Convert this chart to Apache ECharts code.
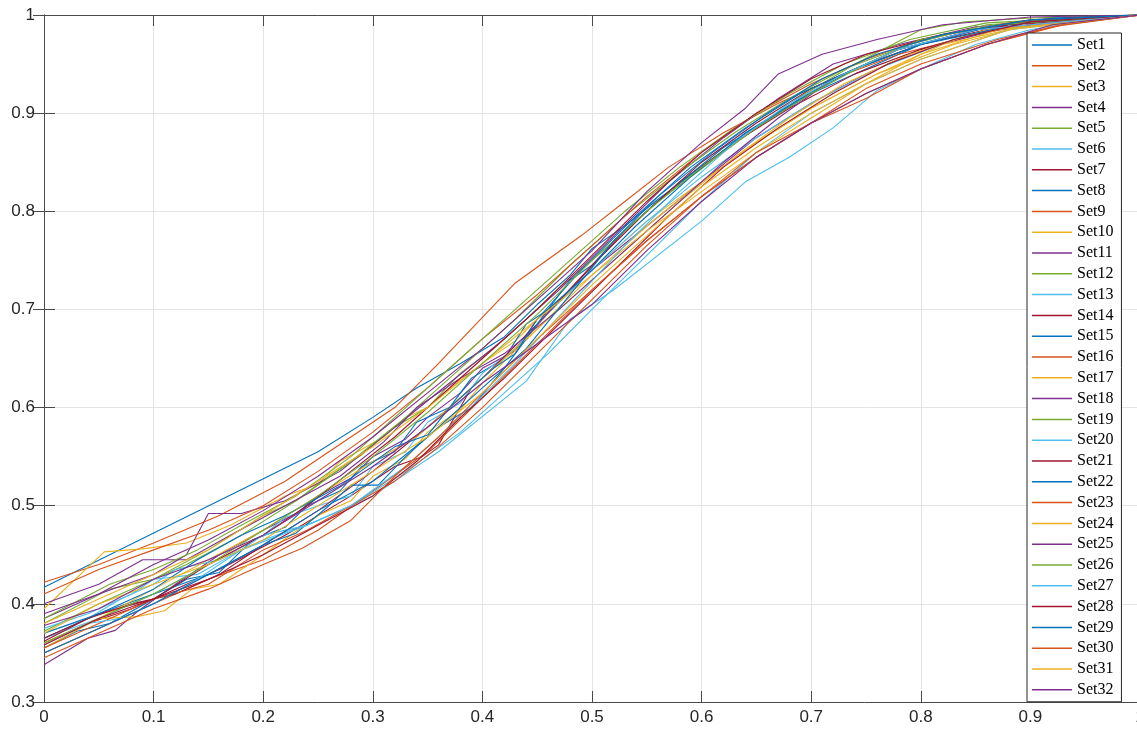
<!DOCTYPE html>
<html>
<head>
<meta charset="utf-8">
<script src="https://cdn.jsdelivr.net/npm/echarts@6.0.0/dist/echarts.min.js"></script>
<style>html,body{margin:0;padding:0;background:#fff;}#chart{width:1137px;height:729px;}</style>
</head>
<body>
<div id="chart"></div>
<script>
const xTicks = [0, 0.1, 0.2, 0.3, 0.4, 0.5, 0.6, 0.7, 0.8, 0.9, 1];
const yTicks = [0.3, 0.4, 0.5, 0.6, 0.7, 0.8, 0.9, 1];
const colors = ['#0072BD', '#D95319', '#EDB120', '#7E2F8E', '#77AC30', '#4DBEEE', '#A2142F'];

const set1 = [[0,0.417],[0.25,0.555],[0.3,0.59],[0.34,0.62],[0.38,0.645],[0.42,0.672],[0.45,0.705],[0.48,0.735],[0.5,0.762],[0.53,0.785],[0.56,0.812],[0.6,0.845],[0.65,0.885],[0.7,0.92],[0.75,0.945],[0.8,0.97],[0.87,0.99],[0.93,0.997],[1,1]];
const set2 = [[0,0.422],[0.05,0.44],[0.1,0.462],[0.16,0.49],[0.22,0.525],[0.28,0.57],[0.32,0.6],[0.36,0.645],[0.43,0.727],[0.49,0.775],[0.53,0.81],[0.57,0.845],[0.62,0.88],[0.67,0.91],[0.72,0.935],[0.78,0.96],[0.85,0.98],[0.92,0.995],[1,1]];
const set3 = [[0,0.395],[0.055,0.453],[0.09,0.456],[0.13,0.462],[0.17,0.48],[0.22,0.51],[0.25,0.522],[0.27,0.545],[0.31,0.57],[0.33,0.59],[0.35,0.6],[0.38,0.628],[0.4,0.645],[0.43,0.668],[0.45,0.69],[0.5,0.74],[0.55,0.79],[0.6,0.83],[0.65,0.87],[0.7,0.905],[0.76,0.94],[0.83,0.97],[0.9,0.99],[1,1]];
const set4 = [[0,0.338],[0.04,0.365],[0.065,0.373],[0.085,0.392],[0.12,0.42],[0.16,0.45],[0.2,0.475],[0.23,0.492],[0.25,0.51],[0.28,0.528],[0.3,0.55],[0.33,0.568],[0.35,0.59],[0.38,0.615],[0.4,0.64],[0.43,0.658],[0.45,0.69],[0.5,0.74],[0.55,0.785],[0.6,0.83],[0.65,0.875],[0.7,0.91],[0.75,0.94],[0.8,0.965],[0.87,0.985],[1,1]];
const set5 = [[0,0.38],[0.06,0.415],[0.1,0.425],[0.15,0.455],[0.2,0.49],[0.23,0.505],[0.26,0.53],[0.29,0.552],[0.32,0.58],[0.35,0.6],[0.38,0.635],[0.41,0.66],[0.44,0.69],[0.47,0.722],[0.5,0.75],[0.56,0.81],[0.62,0.86],[0.68,0.91],[0.74,0.95],[0.8,0.985],[0.84,0.993],[0.9,0.997],[1,1]];
const set6 = [[0,0.365],[0.05,0.385],[0.1,0.41],[0.15,0.44],[0.2,0.465],[0.25,0.485],[0.3,0.51],[0.36,0.555],[0.44,0.627],[0.48,0.69],[0.52,0.72],[0.6,0.79],[0.64,0.83],[0.68,0.855],[0.72,0.885],[0.76,0.923],[0.8,0.945],[0.85,0.97],[0.9,0.985],[0.95,0.995],[1,1]];
const set7 = [[0,0.36],[0.04,0.38],[0.08,0.395],[0.12,0.415],[0.16,0.435],[0.22,0.47],[0.28,0.51],[0.32,0.54],[0.345,0.55],[0.36,0.562],[0.39,0.62],[0.43,0.66],[0.48,0.72],[0.53,0.78],[0.58,0.83],[0.63,0.87],[0.68,0.905],[0.74,0.94],[0.8,0.965],[0.88,0.99],[1,1]];
const set8 = [[0,0.355],[0.03,0.372],[0.06,0.38],[0.1,0.405],[0.13,0.425],[0.16,0.432],[0.19,0.465],[0.22,0.478],[0.24,0.5],[0.27,0.515],[0.29,0.54],[0.32,0.555],[0.34,0.585],[0.37,0.6],[0.39,0.63],[0.42,0.65],[0.44,0.685],[0.46,0.7],[0.48,0.73],[0.5,0.745],[0.52,0.77],[0.57,0.82],[0.62,0.865],[0.67,0.9],[0.72,0.935],[0.78,0.965],[0.85,0.985],[0.92,0.997],[1,1]];
const set9 = [[0,0.35],[0.05,0.375],[0.1,0.4],[0.15,0.425],[0.2,0.445],[0.25,0.475],[0.3,0.515],[0.35,0.555],[0.4,0.61],[0.45,0.665],[0.5,0.72],[0.55,0.77],[0.6,0.815],[0.65,0.855],[0.7,0.89],[0.75,0.925],[0.8,0.95],[0.87,0.975],[0.94,0.993],[1,1]];
const set10 = [[0,0.355],[0.05,0.385],[0.085,0.387],[0.11,0.393],[0.135,0.415],[0.16,0.42],[0.2,0.45],[0.25,0.49],[0.28,0.505],[0.3,0.53],[0.33,0.548],[0.35,0.575],[0.38,0.598],[0.4,0.625],[0.45,0.68],[0.5,0.735],[0.55,0.785],[0.6,0.83],[0.65,0.87],[0.7,0.905],[0.76,0.94],[0.82,0.97],[0.9,0.99],[1,1]];
const set11 = [[0,0.385],[0.05,0.41],[0.1,0.43],[0.13,0.45],[0.15,0.492],[0.18,0.492],[0.22,0.505],[0.27,0.535],[0.32,0.58],[0.37,0.625],[0.42,0.67],[0.47,0.72],[0.52,0.775],[0.57,0.83],[0.62,0.875],[0.67,0.915],[0.72,0.95],[0.78,0.97],[0.85,0.988],[1,1]];
const set12 = [[0,0.372],[0.05,0.4],[0.09,0.42],[0.13,0.44],[0.18,0.47],[0.23,0.505],[0.28,0.545],[0.33,0.59],[0.38,0.64],[0.43,0.69],[0.48,0.745],[0.53,0.795],[0.58,0.84],[0.63,0.88],[0.68,0.915],[0.73,0.945],[0.79,0.97],[0.86,0.99],[1,1]];
const set13 = [[0,0.37],[0.04,0.385],[0.07,0.405],[0.1,0.42],[0.12,0.435],[0.16,0.445],[0.2,0.47],[0.22,0.488],[0.25,0.5],[0.28,0.51],[0.3,0.54],[0.33,0.555],[0.35,0.585],[0.38,0.605],[0.4,0.635],[0.43,0.66],[0.45,0.685],[0.5,0.74],[0.55,0.79],[0.6,0.835],[0.65,0.875],[0.7,0.91],[0.76,0.945],[0.83,0.975],[0.9,0.993],[1,1]];
const set14 = [[0,0.362],[0.04,0.385],[0.08,0.4],[0.12,0.41],[0.16,0.43],[0.2,0.46],[0.25,0.495],[0.3,0.535],[0.35,0.58],[0.4,0.63],[0.45,0.685],[0.5,0.745],[0.55,0.8],[0.6,0.85],[0.65,0.89],[0.7,0.925],[0.75,0.95],[0.8,0.97],[0.88,0.99],[1,1]];
const set15 = [[0,0.365],[0.05,0.39],[0.1,0.41],[0.15,0.43],[0.2,0.46],[0.23,0.472],[0.26,0.5],[0.28,0.521],[0.305,0.521],[0.33,0.55],[0.36,0.58],[0.39,0.6],[0.42,0.64],[0.46,0.7],[0.5,0.74],[0.54,0.785],[0.59,0.835],[0.64,0.88],[0.69,0.915],[0.74,0.945],[0.8,0.97],[0.87,0.99],[1,1]];
const set16 = [[0,0.41],[0.05,0.435],[0.1,0.455],[0.15,0.475],[0.2,0.5],[0.25,0.535],[0.3,0.575],[0.35,0.62],[0.4,0.67],[0.45,0.715],[0.5,0.765],[0.55,0.815],[0.6,0.86],[0.65,0.9],[0.7,0.93],[0.75,0.955],[0.8,0.975],[0.88,0.992],[1,1]];
const set17 = [[0,0.36],[0.05,0.385],[0.1,0.415],[0.15,0.445],[0.2,0.475],[0.25,0.51],[0.3,0.545],[0.34,0.57],[0.38,0.61],[0.43,0.66],[0.48,0.71],[0.53,0.76],[0.58,0.81],[0.63,0.855],[0.68,0.895],[0.73,0.93],[0.79,0.96],[0.86,0.985],[1,1]];
const set18 = [[0,0.4],[0.05,0.42],[0.09,0.445],[0.13,0.445],[0.17,0.47],[0.22,0.5],[0.27,0.53],[0.31,0.565],[0.34,0.6],[0.38,0.63],[0.42,0.655],[0.47,0.7],[0.52,0.75],[0.57,0.8],[0.62,0.85],[0.67,0.895],[0.72,0.935],[0.78,0.965],[0.85,0.985],[1,1]];
const set19 = [[0,0.385],[0.06,0.42],[0.1,0.435],[0.14,0.455],[0.18,0.48],[0.23,0.51],[0.28,0.55],[0.33,0.6],[0.38,0.65],[0.43,0.7],[0.48,0.75],[0.53,0.8],[0.58,0.845],[0.63,0.885],[0.68,0.92],[0.73,0.95],[0.79,0.975],[0.86,0.992],[1,1]];
const set20 = [[0,0.375],[0.04,0.39],[0.08,0.41],[0.1,0.425],[0.14,0.43],[0.18,0.455],[0.24,0.48],[0.28,0.5],[0.33,0.535],[0.38,0.575],[0.42,0.615],[0.46,0.655],[0.5,0.7],[0.55,0.755],[0.6,0.81],[0.65,0.86],[0.7,0.9],[0.75,0.93],[0.8,0.955],[0.88,0.985],[1,1]];
const set21 = [[0,0.365],[0.05,0.39],[0.1,0.405],[0.15,0.44],[0.2,0.47],[0.24,0.5],[0.28,0.535],[0.32,0.57],[0.36,0.61],[0.4,0.65],[0.45,0.7],[0.5,0.755],[0.55,0.81],[0.6,0.86],[0.65,0.9],[0.7,0.935],[0.75,0.96],[0.82,0.98],[0.9,0.995],[1,1]];
const set22 = [[0,0.37],[0.05,0.39],[0.1,0.415],[0.14,0.445],[0.18,0.47],[0.22,0.49],[0.27,0.52],[0.32,0.56],[0.35,0.572],[0.37,0.6],[0.41,0.64],[0.43,0.655],[0.45,0.69],[0.49,0.74],[0.54,0.795],[0.59,0.845],[0.64,0.885],[0.69,0.92],[0.74,0.945],[0.8,0.97],[0.9,0.993],[1,1]];
const set23 = [[0,0.355],[0.05,0.38],[0.1,0.405],[0.15,0.42],[0.2,0.455],[0.24,0.475],[0.28,0.5],[0.32,0.525],[0.36,0.56],[0.4,0.6],[0.45,0.655],[0.5,0.71],[0.55,0.765],[0.6,0.815],[0.65,0.855],[0.7,0.89],[0.75,0.92],[0.8,0.945],[0.86,0.97],[0.93,0.99],[1,1]];
const set24 = [[0,0.38],[0.05,0.405],[0.1,0.43],[0.15,0.455],[0.2,0.49],[0.25,0.525],[0.3,0.56],[0.35,0.6],[0.4,0.645],[0.45,0.69],[0.5,0.735],[0.55,0.78],[0.6,0.82],[0.65,0.86],[0.7,0.895],[0.75,0.93],[0.8,0.96],[0.87,0.985],[1,1]];
const set25 = [[0,0.39],[0.05,0.41],[0.1,0.44],[0.15,0.465],[0.2,0.495],[0.25,0.53],[0.3,0.57],[0.35,0.615],[0.4,0.66],[0.45,0.71],[0.5,0.76],[0.55,0.82],[0.6,0.87],[0.64,0.905],[0.67,0.94],[0.71,0.96],[0.76,0.975],[0.82,0.99],[0.9,0.998],[1,1]];
const set26 = [[0,0.36],[0.05,0.385],[0.1,0.41],[0.15,0.44],[0.2,0.475],[0.25,0.51],[0.3,0.55],[0.35,0.595],[0.4,0.645],[0.45,0.695],[0.5,0.75],[0.55,0.8],[0.6,0.845],[0.65,0.885],[0.7,0.92],[0.75,0.95],[0.8,0.975],[0.87,0.99],[1,1]];
const set27 = [[0,0.358],[0.04,0.38],[0.07,0.385],[0.1,0.4],[0.14,0.425],[0.2,0.47],[0.24,0.48],[0.28,0.5],[0.33,0.54],[0.38,0.59],[0.43,0.645],[0.48,0.705],[0.53,0.765],[0.58,0.82],[0.63,0.87],[0.68,0.91],[0.73,0.94],[0.78,0.965],[0.85,0.985],[1,1]];
const set28 = [[0,0.358],[0.05,0.385],[0.1,0.405],[0.15,0.425],[0.2,0.45],[0.25,0.48],[0.3,0.51],[0.34,0.545],[0.38,0.59],[0.42,0.63],[0.47,0.685],[0.52,0.74],[0.57,0.795],[0.62,0.845],[0.67,0.885],[0.72,0.92],[0.77,0.95],[0.83,0.975],[0.9,0.993],[1,1]];
const set29 = [[0,0.35],[0.05,0.375],[0.1,0.4],[0.15,0.43],[0.2,0.46],[0.25,0.495],[0.3,0.525],[0.35,0.57],[0.4,0.62],[0.44,0.66],[0.48,0.715],[0.52,0.77],[0.56,0.815],[0.61,0.86],[0.66,0.9],[0.71,0.935],[0.76,0.96],[0.82,0.98],[0.9,0.995],[1,1]];
const set30 = [[0,0.345],[0.05,0.37],[0.1,0.395],[0.15,0.415],[0.2,0.44],[0.236,0.457],[0.28,0.485],[0.32,0.53],[0.36,0.57],[0.4,0.615],[0.45,0.67],[0.5,0.72],[0.55,0.77],[0.6,0.815],[0.65,0.86],[0.7,0.89],[0.75,0.915],[0.8,0.945],[0.86,0.97],[0.92,0.988],[1,1]];
const set31 = [[0,0.37],[0.05,0.4],[0.1,0.42],[0.15,0.44],[0.2,0.465],[0.25,0.5],[0.3,0.535],[0.35,0.57],[0.4,0.615],[0.45,0.67],[0.5,0.725],[0.55,0.775],[0.6,0.825],[0.65,0.865],[0.7,0.9],[0.75,0.93],[0.8,0.955],[0.88,0.985],[1,1]];
const set32 = [[0,0.378],[0.05,0.395],[0.1,0.425],[0.15,0.445],[0.2,0.47],[0.25,0.505],[0.3,0.54],[0.35,0.58],[0.4,0.625],[0.45,0.665],[0.5,0.705],[0.55,0.76],[0.6,0.81],[0.65,0.855],[0.7,0.89],[0.75,0.92],[0.8,0.945],[0.86,0.97],[0.92,0.99],[1,1]];

const allSets = [set1,set2,set3,set4,set5,set6,set7,set8,set9,set10,set11,set12,set13,set14,set15,set16,
  set17,set18,set19,set20,set21,set22,set23,set24,set25,set26,set27,set28,set29,set30,set31,set32];
const names = allSets.map((_, i) => 'Set' + (i + 1));

const axisColor = '#4a4a4a';
const gridColor = '#e4e4e4';
const labelFont = { fontFamily: 'Liberation Sans, Arial, sans-serif', fontSize: 17, color: '#262626' };

const chart = echarts.init(document.getElementById('chart'), null, { renderer: 'canvas' });
const option = {
  animation: false,
  backgroundColor: '#ffffff',
  color: colors,
  grid: { left: 44, top: 15, right: -3, bottom: 27, containLabel: false, outerBoundsMode: 'none' },
  xAxis: [
    {
      type: 'value', min: xTicks[0], max: xTicks[xTicks.length - 1], interval: 0.1, position: 'bottom',
      axisLine: { show: true, lineStyle: { color: axisColor, width: 1 } },
      axisTick: { show: true, inside: true, length: 11, lineStyle: { color: axisColor } },
      axisLabel: Object.assign({ margin: 7, hideOverlap: false, showMaxLabel: true, showMinLabel: true }, labelFont),
      splitLine: { show: true, lineStyle: { color: gridColor, width: 1 } }
    },
    {
      type: 'value', min: xTicks[0], max: xTicks[xTicks.length - 1], interval: 0.1, position: 'top',
      axisLine: { show: true, lineStyle: { color: axisColor, width: 1 } },
      axisTick: { show: true, inside: true, length: 11, lineStyle: { color: axisColor } },
      axisLabel: { show: false },
      splitLine: { show: false }
    }
  ],
  yAxis: [
    {
      type: 'value', min: yTicks[0], max: yTicks[yTicks.length - 1], interval: 0.1, position: 'left',
      axisLine: { show: true, lineStyle: { color: axisColor, width: 1 } },
      axisTick: { show: true, inside: true, length: 11, lineStyle: { color: axisColor } },
      axisLabel: Object.assign({ margin: 9 }, labelFont),
      splitLine: { show: true, lineStyle: { color: gridColor, width: 1 } }
    },
    {
      type: 'value', min: yTicks[0], max: yTicks[yTicks.length - 1], interval: 0.1, position: 'right',
      axisLine: { show: true, lineStyle: { color: axisColor, width: 1 } },
      axisTick: { show: true, inside: true, length: 11, lineStyle: { color: axisColor } },
      axisLabel: { show: false },
      splitLine: { show: false }
    }
  ],
  legend: {
    orient: 'vertical',
    left: 1027,
    top: 33,
    padding: [4, 8, 4, 5],
    backgroundColor: '#ffffff',
    borderColor: '#262626',
    borderWidth: 1,
    borderRadius: 0,
    itemWidth: 40,
    itemHeight: 1.5,
    itemGap: 4.8,
    icon: 'rect',
    textStyle: { fontFamily: 'Liberation Serif, Times New Roman, serif', fontSize: 16, lineHeight: 16, color: '#000000', padding: 0 },
    data: names
  },
  series: allSets.map((d, i) => ({
    name: names[i],
    type: 'line',
    data: d,
    xAxisIndex: 0,
    yAxisIndex: 0,
    showSymbol: false,
    symbol: 'none',
    lineStyle: { width: 1.1, color: colors[i % colors.length] },
    itemStyle: { color: colors[i % colors.length] },
    emphasis: { disabled: true },
    z: 2
  }))
};
chart.setOption(option);
</script>
</body>
</html>
